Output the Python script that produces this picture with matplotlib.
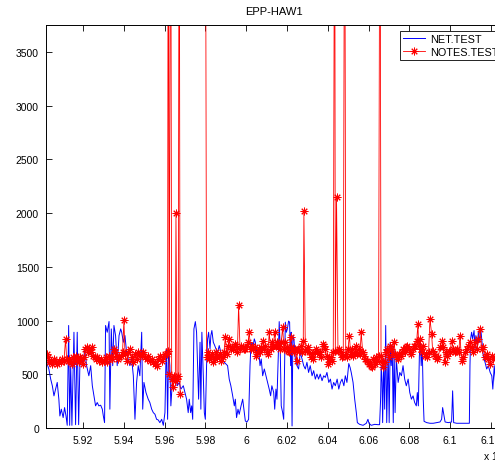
import numpy as np
import matplotlib
matplotlib.use('Agg')
import matplotlib.pyplot as plt
from matplotlib.ticker import FuncFormatter, MultipleLocator

nan = float('nan')

# NET.TEST  (x in units of 10^4)
net_x = [
    5.9022, 5.9033, 5.9042, 5.9050, 5.9058, 5.9066, 5.9074, 5.9082, 5.9087, 5.9094,
    5.9103, 5.9110, 5.9117, 5.9123, 5.9130, 5.9135, 5.9140, 5.9146, 5.9156, 5.9164,
    5.9172, 5.9179, 5.9185, 5.9192, 5.9202, 5.9208, 5.9218, 5.9229, 5.9238, 5.9246,
    5.9254, 5.9262, 5.9270, 5.9278, 5.9287, 5.9295, 5.9300, 5.9306, 5.9311, 5.9319,
    5.9328, 5.9332, 5.9339, 5.9346, 5.9352, 5.9360, 5.9368, 5.9377, 5.9385,
    5.9390, 5.9398, 5.9406, 5.9414, 5.9422, 5.9430, 5.9439, 5.9447, 5.9455, 5.9463,
    5.9471, 5.9479, 5.9488, 5.9493, 5.9499, 5.9509, 5.9520, 5.9528, 5.9537, 5.9545,
    5.9553, 5.9561, 5.9569, 5.9577, 5.9586, 5.9594, 5.9602, 5.9607, 5.9610, 5.9615,
    5.9620, 5.9626, 5.9631, 5.9640, 5.9646, 5.9656, 5.9662, 5.9672, 5.9680, 5.9692,
    5.9700, 5.9708, 5.9716, 5.9721, 5.9728, 5.9733, 5.9738, 5.9744, 5.9751, 5.9757,
    5.9767, 5.9774, 5.9778, 5.9783, 5.9790, 5.9795, 5.9800, 5.9806, 5.9811, 5.9816,
    5.9823, 5.9827, 5.9832, 5.9839, 5.9846, 5.9852, 5.9860, 5.9868, 5.9876, 5.9885,
    5.9893, 5.9901, 5.9909, 5.9917, 5.9925, 5.9934, 5.9942, 5.9947, 5.9953, 5.9960,
    5.9966, 5.9975, 5.9983, 5.9991, 5.9996, 6.0004, 6.0012, 6.0019, 6.0024, 6.0032,
    6.0040, 6.0045, 6.0052, 6.0061, 6.0068, 6.0074, 6.0081, 6.0089, 6.0097, 6.0105,
    6.0113, 6.0120,
    6.0126, 6.0135, 6.0140, 6.0146, 6.0151, 6.0156, 6.0159, 6.0162, 6.0167, 6.0172,
    6.0179, 6.0184, 6.0189, 6.0192, 6.0197, 6.0202, 6.0208, 6.0213, 6.0218, 6.0221,
    6.0225, 6.0229, 6.0234, 6.0241, 6.0249, 6.0257, 6.0265, 6.0274, 6.0282, 6.0290,
    6.0298, 6.0306, 6.0314, 6.0323, 6.0331, 6.0339, 6.0347, 6.0355, 6.0363, 6.0372,
    6.0380, 6.0388, 6.0396, 6.0405, 6.0413, 6.0421, 6.0429, 6.0437, 6.0446, 6.0454,
    6.0462, 6.0470, 6.0479, 6.0486, 6.0494,
    6.0503, 6.0510, 6.0515, 6.0524, 6.0532, 6.0540, 6.0545, 6.0556, 6.0573, 6.0589,
    6.0597, 6.0602, 6.0613, 6.0630, 6.0646, 6.0654, 6.0659, 6.0662, 6.0666, 6.0669,
    6.0674, 6.0679, 6.0684, 6.0689, 6.0696, 6.0701, 6.0706, 6.0711, 6.0716, 6.0721,
    6.0725, 6.0730, 6.0736, 6.0745, 6.0753, 6.0761, 6.0769, 6.0777, 6.0785, 6.0794,
    6.0802, 6.0810, 6.0818, 6.0826, 6.0834, 6.0839, 6.0844, 6.0849, 6.0854, 6.0858,
    6.0863, 6.0868,
    6.0872, 6.0885, 6.0901, 6.0917, 6.0934, 6.0950, 6.0958, 6.0963, 6.0970, 6.0975,
    6.0991, 6.1007, 6.1012, 6.1017, 6.1032, 6.1064, 6.1094, 6.1097, 6.1100, 6.1105,
    6.1110, 6.1117, 6.1122, 6.1126, 6.1133, 6.1138, 6.1143, 6.1150, 6.1156, 6.1162,
    6.1171, 6.1179, 6.1187, 6.1196, 6.1204, 6.1209, 6.1216, 6.1224,
]
net_y = [
    611, 549, 455, 393, 299, 362, 424, 268, 112, 175,
    97, 190, 112, 25, 954, 25, 580, 25, 891, 31,
    891, 31, 580, 673, 580, 736, 580, 486, 580, 393,
    299, 206, 237, 206, 212, 175, 112, 50, 954, 891,
    991, 175, 922, 580, 954, 860, 580, 860, 922,
    891, 798, 860, 704, 642, 580, 642, 486, 81, 424,
    580, 486, 891, 175, 424, 330, 268, 237, 175, 143,
    128, 81, 75, 50, 81, 25, 143, 642, 736, 81,
    736, 580, 206, 486, 455, 486, 393, 424, 362, 393,
    330, 268, 143, 268, 143, 206, 81, 922, 990, 891,
    268, 798, 175, 891, 486, 143, 81, 580, 829, 891,
    736, 860, 907, 798, 767, 736, 704, 767, 704, 642,
    611, 595, 580, 455, 393, 299, 206, 268, 97, 175,
    128, 206, 268, 143, 65, 56, 81, 580, 798, 736,
    829, 798, 704, 736, 580, 642, 486, 549, 486, 424,
    362, 300,
    393, 330, 175, 362, 268, 580, 767, 990, 736, 206,
    143, 81, 673, 985, 891, 922, 995, 985, 580, 891,
    19, 860, 829, 642, 580, 549, 704, 642, 580, 549,
    611, 517, 580, 486, 533, 455, 502, 455, 502, 440,
    486, 471, 517, 424, 455, 362, 424, 393, 455, 362,
    424, 455, 393, 486, 424,
    600, 560, 517, 424, 268, 143, 50, 34, 25, 44,
    81, 44, 25, 34, 31, 31, 268, 580, 424, 50,
    642, 175, 954, 50, 736, 50, 798, 580, 767, 50,
    736, 143, 642, 424, 517, 486, 580, 455, 393, 455,
    330, 268, 299, 237, 206, 330, 206, 673, 798, 580,
    767, 268,
    62, 50, 44, 44, 50, 56, 81, 190, 112, 56,
    50, 56, 346, 50, 44, 44, 44, 580, 829, 891,
    829, 907, 736, 860, 767, 891, 798, 922, 798, 673,
    611, 549, 580, 517, 486, 362, 580, 380,
]

# NOTES.TEST  (nan = no data, 6000 = off the top of the scale)
notes_x = [
    5.9022, 5.9028, 5.9035, 5.9042, 5.9050, 5.9058, 5.9066, 5.9074, 5.9082, 5.9091,
    5.9099, 5.9107, 5.9115, 5.9120, 5.9127, 5.9133, 5.9140, 5.9148, 5.9153, 5.9159,
    5.9166, 5.9172, 5.9179, 5.9185, 5.9192, 5.9198, 5.9205, 5.9211, 5.9218, 5.9225,
    5.9231, 5.9238, 5.9244, 5.9251, 5.9257, 5.9264, 5.9270, 5.9278, 5.9287, 5.9295,
    5.9303, 5.9311, 5.9319, 5.9328, 5.9336, 5.9344, 5.9352, 5.9359, 5.9365, 5.9372,
    5.9378,
    5.9388, 5.9394, 5.9401, 5.9406, 5.9414, 5.9422, 5.9430, 5.9439, 5.9447, 5.9455,
    5.9463, 5.9471, 5.9479, 5.9488, 5.9496, 5.9504, 5.9512, 5.9520, 5.9528, 5.9537,
    5.9545, 5.9553, 5.9561, 5.9569, 5.9577, 5.9586, 5.9594, 5.9602, 5.9610, 5.9615,
    5.9618, 5.9623, 5.9630, 5.9635, 5.9640, 5.9646, 5.9653, 5.9656, 5.9661, 5.9667,
    5.9672, 5.9676, 5.9700,
    5.9800, 5.9806, 5.9813, 5.9819, 5.9826, 5.9832, 5.9839, 5.9845, 5.9852, 5.9858,
    5.9865, 5.9872, 5.9878, 5.9885, 5.9891, 5.9898, 5.9904, 5.9911, 5.9917, 5.9924,
    5.9930, 5.9937, 5.9944, 5.9950, 5.9957, 5.9963, 5.9970, 5.9976, 5.9983, 5.9989,
    5.9996, 6.0002, 6.0009, 6.0015, 6.0022, 6.0028, 6.0035, 6.0042, 6.0048, 6.0055,
    6.0061, 6.0068, 6.0074, 6.0081, 6.0087, 6.0094, 6.0100, 6.0107, 6.0113, 6.0120,
    6.0127,
    6.0133, 6.0140, 6.0146, 6.0153, 6.0159, 6.0166, 6.0172, 6.0179, 6.0185, 6.0192,
    6.0198, 6.0205, 6.0211, 6.0218, 6.0221, 6.0228, 6.0234, 6.0241, 6.0247, 6.0254,
    6.0260, 6.0267, 6.0274, 6.0280, 6.0283, 6.0290, 6.0296, 6.0303, 6.0310, 6.0316,
    6.0323, 6.0329, 6.0336, 6.0342, 6.0349, 6.0355, 6.0362, 6.0368, 6.0375, 6.0381,
    6.0388, 6.0394, 6.0401, 6.0408, 6.0414, 6.0421, 6.0427, 6.0434, 6.0437, 6.0443,
    6.0450, 6.0457, 6.0463, 6.0470, 6.0476, 6.0483, 6.0488, 6.0492, 6.0499,
    6.0506, 6.0512, 6.0519, 6.0525, 6.0532, 6.0538, 6.0545, 6.0551, 6.0558, 6.0564,
    6.0571, 6.0577, 6.0584, 6.0591, 6.0597, 6.0604, 6.0610, 6.0617, 6.0623, 6.0630,
    6.0636, 6.0643, 6.0649, 6.0656, 6.0661, 6.0666, 6.0672, 6.0679, 6.0685, 6.0692,
    6.0698, 6.0705, 6.0711, 6.0718, 6.0725, 6.0731, 6.0738, 6.0744, 6.0751, 6.0757,
    6.0764, 6.0770, 6.0777, 6.0783, 6.0790, 6.0796, 6.0803, 6.0809, 6.0816, 6.0823,
    6.0829, 6.0836, 6.0842, 6.0845, 6.0850, 6.0855, 6.0862, 6.0868,
    6.0875, 6.0881, 6.0888, 6.0894, 6.0901, 6.0909, 6.0914, 6.0921, 6.0927, 6.0934,
    6.0942, 6.0950, 6.0958, 6.0966, 6.0973, 6.0979, 6.0986, 6.0993, 6.0999, 6.1007,
    6.1015, 6.1022, 6.1028, 6.1035, 6.1042, 6.1048, 6.1056, 6.1064, 6.1073, 6.1081,
    6.1089, 6.1097, 6.1105, 6.1113, 6.1122, 6.1130, 6.1138, 6.1146, 6.1154, 6.1162,
    6.1171, 6.1179, 6.1187, 6.1195, 6.1203, 6.1211, 6.1219,
]
notes_y = [
    689, 658, 611, 627, 595, 642, 611, 595, 627, 611,
    642, 627, 829, 642, 627, 642, 611, 595, 658, 642,
    673, 627, 611, 658, 642, 595, 658, 736, 751, 704,
    736, 704, 751, 673, 658, 642, 658, 627, 642, 611,
    627, 658, 611, 673, 658, 642, 736, 704, 673, 642,
    658,
    673, 704, 1001, 689, 627, 704, 736, 658, 611, 689,
    642, 704, 673, 689, 704, 658, 642, 673, 627, 642,
    611, 595, 580, 642, 673, 627, 658, 689, 689, 720,
    6000, 500, 6000, 455, 377, 486, 440, 2000, 455, 486,
    6000, 315, nan,
    6000, 658, 704, 642, 673, 689, 611, 642, 704, 658,
    673, 689, 627, 658, 704, 845, 689, 767, 829, 736,
    751, 736, 782, 767, 704, 1141, 736, 767, 751, 736,
    736, 767, 798, 891, 736, 767, 736, 751, 673, 704,
    736, 704, 751, 814, 736, 767, 704, 689, 891, 736,
    798,
    767, 891, 767, 798, 767, 736, 798, 938, 736, 798,
    751, 720, 704, 845, 751, 736, 704, 736, 627, 736,
    720, 767, 704, 814, 2020, 720, 736, 751, 704, 658,
    689, 642, 704, 736, 720, 689, 704, 658, 782, 767,
    736, 673, 595, 642, 658, 627, 704, 6000, 720, 2150,
    720, 736, 704, 658, 673, 6000, 689, 658, 736,
    860, 689, 736, 673, 704, 767, 689, 736, 689, 891,
    704, 673, 642, 627, 611, 595, 580, 564, 642, 595,
    658, 627, 673, 6000, 673, 611, 564, 611, 704, 736,
    658, 767, 736, 689, 798, 689, 658, 642, 689, 673,
    704, 736, 704, 751, 767, 736, 704, 689, 736, 767,
    767, 814, 969, 767, 829, 736, 704, 767,
    673, 689, 658, 704, 1016, 876, 720, 689, 673, 642,
    658, 751, 814, 751, 611, 704, 673, 720, 704, 814,
    736, 704, 720, 736, 704, 860, 627, 658, 704, 736,
    767, 798, 751, 704, 798, 736, 829, 923, 736, 751,
    658, 689, 642, 595, 673, 642, 660,
]

y_ticks = [0, 500, 1000, 1500, 2000, 2500, 3000, 3500]

plt.rcParams['font.family'] = ['Liberation Sans', 'DejaVu Sans']

fig = plt.figure(figsize=(4.95, 4.64), dpi=100)
# axes runs a little past the right edge of the picture, as in the original crop
ax = fig.add_axes([46 / 495, 35 / 464, 456 / 495, 403 / 464])

ax.plot(net_x, net_y, color='#0000ff', linewidth=0.7, label='NET.TEST')
ax.plot(notes_x, notes_y, color='#ff0000', linewidth=0.6,
        marker=(8, 2, 0), markersize=5.5, markeredgewidth=0.7,
        label='NOTES.TEST')

ax.set_xlim(5.9019, 6.1254)
ax.set_ylim(0, 3750)
ax.xaxis.set_major_locator(MultipleLocator(0.02))
ax.set_yticks(y_ticks)
ax.xaxis.set_major_formatter(FuncFormatter(lambda v, p: '%g' % round(v, 4)))

ax.tick_params(direction='in', length=4, width=0.6, labelsize=7.5,
               top=True, right=True, pad=5)
for s in ax.spines.values():
    s.set_linewidth(0.7)

ax.set_title('EPP-HAW1', fontsize=8, pad=8)

leg = ax.legend(loc='upper left', bbox_to_anchor=((400 - 46) / 456, (429 - 32) / 403),
                borderaxespad=0, fontsize=7.8, fancybox=False, framealpha=1,
                edgecolor='black', handlelength=2.0, borderpad=0.3,
                labelspacing=0.25, handletextpad=0.5)
leg.get_frame().set_linewidth(0.6)

fig.text(483 / 495, 1 - 456 / 464, 'x 10$^{4}$', fontsize=7.5, ha='left', va='center')

fig.savefig('out.png', dpi=100)
